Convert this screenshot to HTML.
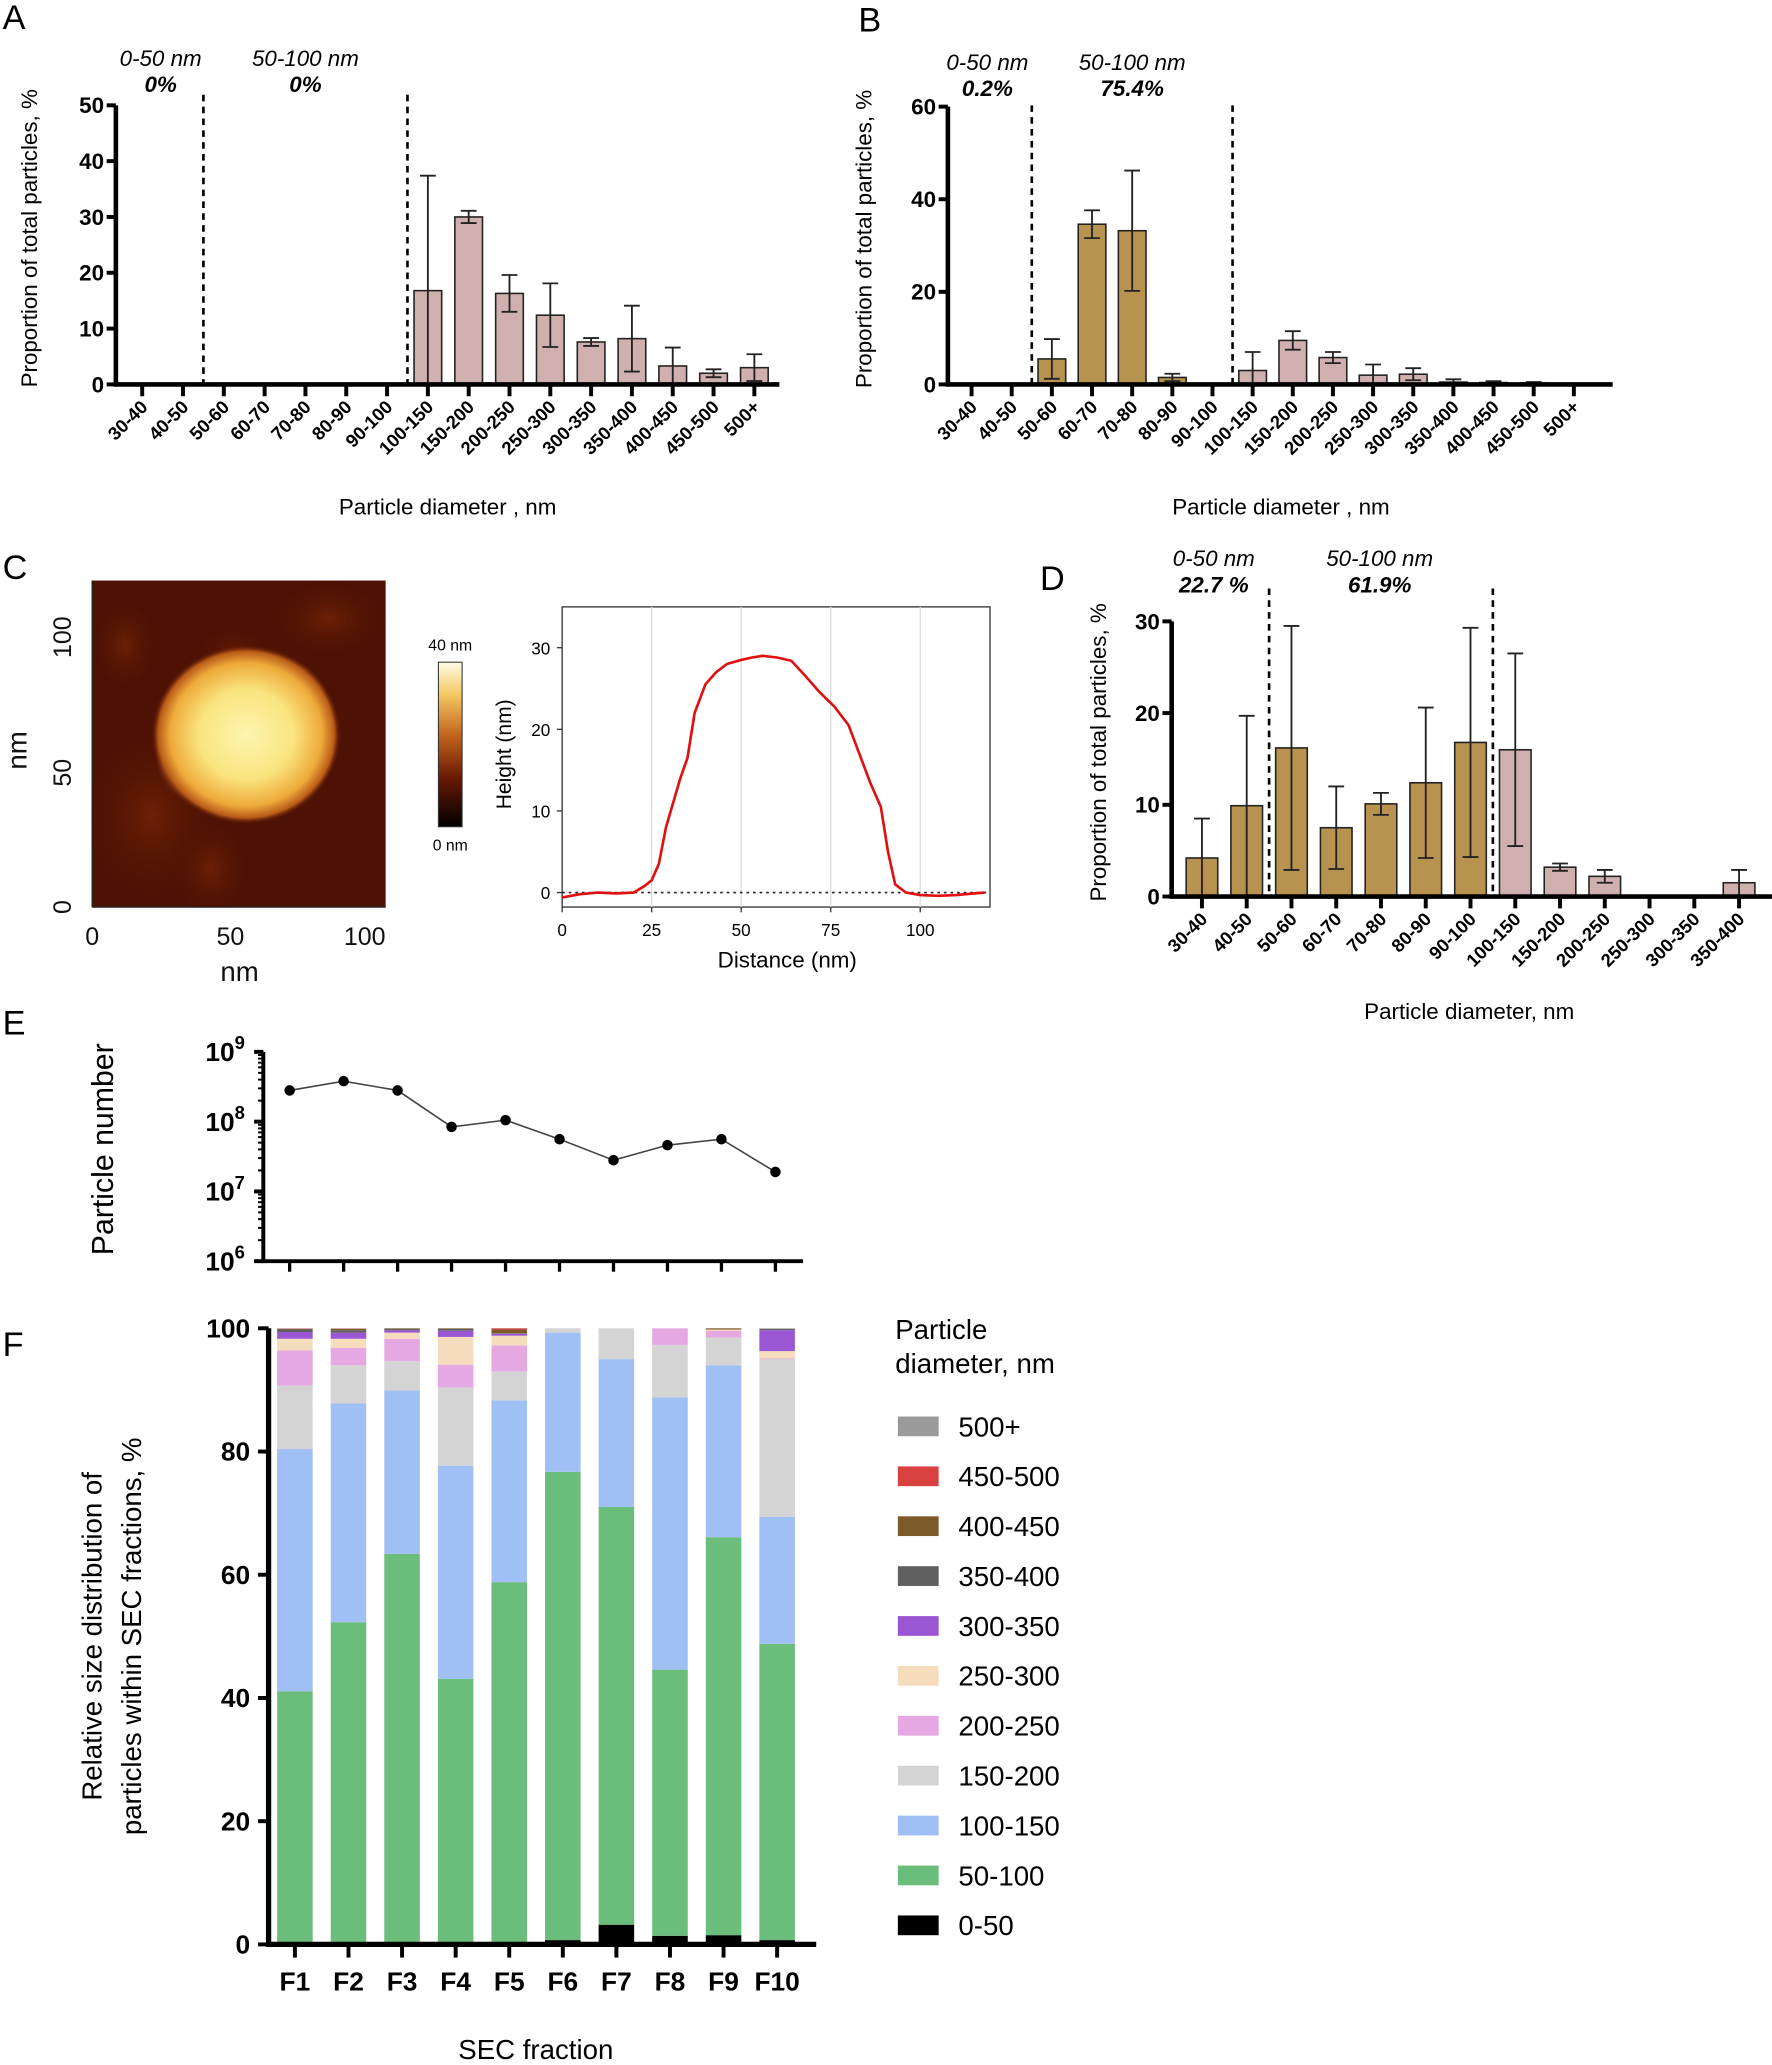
<!DOCTYPE html>
<html><head><meta charset="utf-8"><style>
html,body{margin:0;padding:0;background:#fff;}
svg{display:block;font-family:"Liberation Sans",Arial,sans-serif;}
</style></head><body>
<svg id="fig" width="1772" height="2065" viewBox="0 0 1346 1568.6" xmlns="http://www.w3.org/2000/svg">
<defs>
<clipPath id="afmclip"><rect x="70" y="441" width="223" height="248"/></clipPath>
<radialGradient id="blob" cx="50%" cy="50%" r="50%">
<stop offset="0" stop-color="#fdf5b0"/><stop offset="0.5" stop-color="#f9e47e"/><stop offset="0.8" stop-color="#eeaa3a"/><stop offset="0.93" stop-color="#b85a18"/><stop offset="1" stop-color="#5a1505" stop-opacity="0"/>
</radialGradient>
<radialGradient id="blob2" cx="50%" cy="50%" r="50%">
<stop offset="0" stop-color="#f7d060"/><stop offset="0.7" stop-color="#e49a38"/><stop offset="1" stop-color="#a04a10" stop-opacity="0"/>
</radialGradient>
<radialGradient id="spot" cx="50%" cy="50%" r="50%"><stop offset="0" stop-color="#6e2006"/><stop offset="1" stop-color="#4e1204" stop-opacity="0"/></radialGradient>
<linearGradient id="cbar" x1="0" y1="1" x2="0" y2="0">
<stop offset="0" stop-color="#000"/><stop offset="0.3" stop-color="#6a1a04"/><stop offset="0.55" stop-color="#c0621c"/><stop offset="0.8" stop-color="#f3c760"/><stop offset="1" stop-color="#fffbe8"/>
</linearGradient>
</defs>
<g font-size="26">
<text x="2" y="22">A</text><text x="652" y="24">B</text><text x="2" y="440">C</text><text x="790" y="448">D</text><text x="2" y="786">E</text><text x="2" y="1030">F</text>
</g>
<g clip-path="url(#afmclip)">
<rect x="70" y="441" width="223" height="248" fill="#4e1204"/>
<ellipse cx="115" cy="620" rx="55" ry="70" fill="url(#spot)"/>
<ellipse cx="160" cy="660" rx="30" ry="40" fill="url(#spot)"/>
<ellipse cx="250" cy="470" rx="45" ry="30" fill="url(#spot)"/>
<ellipse cx="178" cy="500" rx="30" ry="25" fill="url(#spot)"/>
<ellipse cx="95" cy="490" rx="25" ry="35" fill="url(#spot)"/>
<ellipse cx="215" cy="540" rx="35" ry="40" fill="url(#blob2)"/>
<ellipse cx="160" cy="575" rx="42" ry="38" fill="url(#blob2)"/>
<ellipse cx="187" cy="558" rx="72" ry="68" fill="url(#blob)"/>
</g>
<g font-size="19" fill="#111">
<line x1="70" y1="689" x2="293" y2="689" stroke="#222"/>
<line x1="70" y1="441" x2="70" y2="689" stroke="#222"/>
<text x="70" y="718" text-anchor="middle">0</text><text x="175" y="718" text-anchor="middle">50</text><text x="277" y="718" text-anchor="middle">100</text>
<text x="182" y="745" text-anchor="middle" font-size="21">nm</text>
<text transform="translate(54,689) rotate(-90)" text-anchor="middle">0</text>
<text transform="translate(54,587) rotate(-90)" text-anchor="middle">50</text>
<text transform="translate(54,484) rotate(-90)" text-anchor="middle">100</text>
<text transform="translate(20,570) rotate(-90)" text-anchor="middle" font-size="21">nm</text>
</g>
<g font-size="12">
<rect x="333" y="503" width="18" height="125" fill="url(#cbar)" stroke="#333" stroke-width="0.8"/>
<text x="342" y="494" text-anchor="middle">40 nm</text><text x="342" y="646" text-anchor="middle">0 nm</text>
</g>
<g id="pC"></g>
<g id="pA"></g>
<g id="pB"></g>
<g id="pD"></g>
<g id="pE"></g>
<g id="pF"></g>
</svg>
<script>
const catsAB = ["30-40","40-50","50-60","60-70","70-80","80-90","90-100","100-150","150-200","200-250","250-300","300-350","350-400","400-450","450-500","500+"];
const valsA = [0,0,0,0,0,0,0,16.8,30,16.3,12.4,7.6,8.2,3.3,2.0,3.0];
const errA  = [0,0,0,0,0,0,0,20.6,1.1,3.3,5.7,0.7,5.9,3.3,0.7,2.4];
const valsB = [0,0,5.5,34.6,33.2,1.5,0,3.0,9.5,5.8,2.0,2.2,0.5,0.4,0.3,0];
const errB  = [0,0,4.3,3.0,13.0,0.8,0,4.0,2.0,1.2,2.3,1.3,0.6,0.3,0.2,0];
const catsD = ["30-40","40-50","50-60","60-70","70-80","80-90","90-100","100-150","150-200","200-250","250-300","300-350","350-400"];
const valsD = [4.2,9.9,16.2,7.5,10.1,12.4,16.8,16.0,3.2,2.2,0,0,1.5];
const errD  = [4.3,9.8,13.3,4.5,1.2,8.2,12.5,10.5,0.4,0.7,0,0,1.4];
const ticksA = [0,10,20,30,40,50];
const ticksB = [0,20,40,60];
const ticksD = [0,10,20,30];
const profX = [0,5,10,15,20,23,25,27,29,31,33,35,37,40,43,46,50,53,56,60,64,68,72,76,80,83,86,89,91,92,93,96,100,105,110,115,118];
const profY = [-0.6,-0.2,0,-0.1,0,0.8,1.5,3.5,8,11,14,16.5,22,25.5,27,28,28.5,28.8,29,28.8,28.4,26.5,24.5,22.8,20.5,17,13.5,10.5,5,3,1,0,-0.3,-0.4,-0.3,-0.1,0];
const profXTicks = [0,25,50,75,100];
const profYTicks = [0,10,20,30];
const fractions = ["F1","F2","F3","F4","F5","F6","F7","F8","F9","F10"];
const particleNumbers = [2.8e8,3.8e8,2.8e8,8.4e7,1.05e8,5.6e7,2.8e7,4.6e7,5.6e7,1.9e7];
const sizeClasses = ["0-50","50-100","100-150","150-200","200-250","250-300","300-350","350-400","400-450","450-500","500+"];
const sizeColors = ["#000000","#6abd7a","#a0bff5","#d4d4d4","#e6a8e3","#f5dcbd","#9b57d3","#606060","#7d5a2a","#d94040","#9a9a9a"];
const s050   = [0.3,0.3,0.3,0.3,0.3,0.7,3.2,1.4,1.5,0.7];
const s50100 = [40.8,52,63.1,42.8,58.5,76,67.8,43.2,64.6,48.1];
const s100150= [39.3,35.5,26.5,34.6,29.5,22.6,24,44.2,27.9,20.6];
const s150200= [10.3,6.2,4.8,12.7,4.7,0.7,5,8.5,4.5,25.6];
const s200250= [5.7,2.8,3.6,3.7,4.2,0,0,2.7,1.1,0.1];
const s250300= [1.9,1.5,1,4.5,1.6,0,0,0,0.2,1.2];
const s300350= [1.1,1,0.4,1,0.3,0,0,0,0,3.4];
const s350400= [0.4,0.4,0.2,0.3,0.1,0,0,0,0,0.2];
const s400450= [0.1,0.2,0.1,0.1,0.6,0,0,0,0.2,0];
const s450500= [0.05,0.05,0,0,0.2,0,0,0,0,0];
const s500p  = [0.05,0.05,0,0,0,0,0,0,0,0.1];
const stackSeries = [s050,s50100,s100150,s150200,s200250,s250300,s300350,s350400,s400450,s450500,s500p];
const yTicksF = [0,20,40,60,80,100];
const logTicks = [6,7,8,9];

const NS="http://www.w3.org/2000/svg";
function mk(p,tag,a,txt){const e=document.createElementNS(NS,tag);for(const k in a)e.setAttribute(k,a[k]);if(txt!==undefined)e.textContent=txt;p.appendChild(e);return e;}

function barChart(g,cats,vals,errs,ticks,cfg){
  const y=v=>cfg.y0-(v/cfg.ymax)*(cfg.y0-cfg.ytop);
  const x=i=>cfg.x0+i*cfg.dx;
  ticks.forEach(t=>{
    let e=mk(g,'line',{x1:cfg.ax-7,x2:cfg.ax,y1:y(t),y2:y(t),stroke:'#000','stroke-width':3});
    
    
    e=mk(g,'text',{x:cfg.ax-9,y:y(t)+6,'text-anchor':'end','font-size':17,'font-weight':'bold'},String(t));
    
    
  });
  cats.forEach((c,i)=>{
    const col=i>=cfg.pinkFrom?'#cfb0ae':'#b8924f';
    if(vals[i]>0){
      let r=mk(g,'rect',{x:x(i)-cfg.bw/2,y:y(vals[i]),width:cfg.bw,height:cfg.y0-y(vals[i]),fill:col,stroke:'#222','stroke-width':1.2});
      
      
    }
    if(errs[i]>0){
      const lo=Math.max(0,vals[i]-errs[i]),hi=vals[i]+errs[i];
      let e=mk(g,'path',{d:`M${x(i)},${y(lo)}V${y(hi)}M${x(i)-6},${y(hi)}H${x(i)+6}M${x(i)-6},${y(lo)}H${x(i)+6}`,stroke:'#222','stroke-width':1.4,fill:'none'});
      
      
    }
    let t=mk(g,'line',{x1:x(i),x2:x(i),y1:cfg.y0,y2:cfg.y0+9,stroke:'#000','stroke-width':3});
    
    
    let l=mk(g,'text',{transform:`translate(${x(i)+5},${cfg.y0+18}) rotate(-45)`,'text-anchor':'end','font-size':14,'font-weight':'bold'},c);
    
    
  });
  cfg.dashes.forEach(d=>{
    let e=mk(g,'line',{x1:x(d),x2:x(d),y1:cfg.dashTop,y2:cfg.y0,stroke:'#000','stroke-width':2,'stroke-dasharray':'5,4'});
    
    
  });
  let ax=mk(g,'path',{d:`M${cfg.ax},${y(ticks[ticks.length-1])}V${cfg.y0}H${cfg.xend}`,stroke:'#000','stroke-width':3.5,fill:'none'});
  
  
  let yt=mk(g,'text',{transform:`translate(${cfg.ytx},${(cfg.y0+cfg.ytop)/2-5}) rotate(-90)`,'text-anchor':'middle','font-size':17},'Proportion of total particles, %');
  
  
  let xt=mk(g,'text',{x:cfg.xtx,y:cfg.xty,'text-anchor':'middle','font-size':17},cfg.xtitle);
  
  
  cfg.ann.forEach(a=>{
    let e=mk(g,'text',{x:a[0],y:a[1],'text-anchor':'middle','font-size':17,'font-style':'italic'},a[2]);
    
    
    e=mk(g,'text',{x:a[0],y:a[1]+20,'text-anchor':'middle','font-size':17,'font-style':'italic','font-weight':'bold'},a[3]);
    
    
  });
}
barChart(document.getElementById('pA'),catsAB,valsA,errA,ticksA,{ax:88,y0:292,ytop:80,ymax:50,x0:108,dx:31,bw:21,xend:592,pinkFrom:0,dashes:[1.5,6.5],dashTop:72,ytx:28,xtx:340,xty:391,xtitle:'Particle diameter , nm',ann:[[122,50,'0-50 nm','0%'],[232,50,'50-100 nm','0%']]});
barChart(document.getElementById('pB'),catsAB,valsB,errB,ticksB,{ax:720,y0:292,ytop:81,ymax:60,x0:738,dx:30.5,bw:21,xend:1225,pinkFrom:7,dashes:[1.5,6.5],dashTop:80,ytx:662,xtx:973,xty:391,xtitle:'Particle diameter , nm',ann:[[750,53,'0-50 nm','0.2%'],[860,53,'50-100 nm','75.4%']]});
barChart(document.getElementById('pD'),catsD,valsD,errD,ticksD,{ax:890,y0:681,ytop:472,ymax:30,x0:913,dx:34,bw:24,xend:1346,pinkFrom:7,dashes:[1.5,6.5],dashTop:447,ytx:840,xtx:1116,xty:774,xtitle:'Particle diameter, nm',ann:[[922,430,'0-50 nm','22.7 %'],[1048,430,'50-100 nm','61.9%']]});

(function(){
  const g=document.getElementById('pC');
  const X=v=>427+v*2.72, Y=v=>678-v*6.2;
  let fr=mk(g,'rect',{x:427,y:461,width:325,height:228,fill:'none',stroke:'#333','stroke-width':1});
  
  
  profXTicks.forEach(t=>{
    if(t>0){let gl=mk(g,'line',{x1:X(t),x2:X(t),y1:461,y2:689,stroke:'#ddd','stroke-width':1});
    
    }
    let e=mk(g,'line',{x1:X(t),x2:X(t),y1:689,y2:693,stroke:'#333'});
    
    
    e=mk(g,'text',{x:X(t),y:711,'text-anchor':'middle','font-size':13},String(t));
    
    
  });
  profYTicks.forEach(t=>{
    let e=mk(g,'line',{x1:423,x2:427,y1:Y(t),y2:Y(t),stroke:'#333'});
    
    
    e=mk(g,'text',{x:418,y:Y(t)+5,'text-anchor':'end','font-size':13},String(t));
    
    
  });
  let z=mk(g,'line',{x1:427,x2:752,y1:Y(0),y2:Y(0),stroke:'#222','stroke-width':1.3,'stroke-dasharray':'2,3'});
  
  
  let d=profX.map((v,i)=>(i?'L':'M')+X(v)+','+Y(profY[i])).join('');
  let p=mk(g,'path',{d:d,fill:'none',stroke:'#e01010','stroke-width':2});
  
  
  let t=mk(g,'text',{x:598,y:735,'text-anchor':'middle','font-size':17},'Distance (nm)');
  
  
  t=mk(g,'text',{transform:'translate(388,573) rotate(-90)','text-anchor':'middle','font-size':16},'Height (nm)');
  
  
})();

(function(){
  const g=document.getElementById('pE');
  const Y=v=>958-53*(Math.log10(v)-6), X=i=>220+i*41;
  logTicks.forEach(t=>{
    let e=mk(g,'line',{x1:193,x2:200,y1:Y(Math.pow(10,t)),y2:Y(Math.pow(10,t)),stroke:'#000','stroke-width':3});
    
    
    e=mk(g,'text',{x:186,y:Y(Math.pow(10,t))+7,'text-anchor':'end','font-size':20,'font-weight':'bold'});
    
    
    mk(e,'tspan',{},'10');
    mk(e,'tspan',{dy:-9,'font-size':14},String(t));
    if(t<9){for(let m=2;m<10;m++){let mm=mk(g,'line',{x1:196,x2:200,y1:Y(m*Math.pow(10,t)),y2:Y(m*Math.pow(10,t)),stroke:'#000','stroke-width':1.5});
      
      }}
  });
  fractions.forEach((f,i)=>{
    let e=mk(g,'line',{x1:X(i),x2:X(i),y1:958,y2:966,stroke:'#000','stroke-width':2.5});
    
    
  });
  let d=particleNumbers.map((v,i)=>(i?'L':'M')+X(i)+','+Y(v)).join('');
  let ln=mk(g,'path',{d:d,fill:'none',stroke:'#444','stroke-width':1.2});
  
  
  particleNumbers.forEach((v,i)=>{
    let c=mk(g,'circle',{cx:X(i),cy:Y(v),r:4,fill:'#000'});
    
    
  });
  let ax=mk(g,'path',{d:'M200,799V958H610',fill:'none',stroke:'#000','stroke-width':3});
  
  
  let t=mk(g,'text',{transform:'translate(86,873) rotate(-90)','text-anchor':'middle','font-size':23},'Particle number');
  
  
})();

(function(){
  const g=document.getElementById('pF');
  const Y=v=>1477-v*4.68, X=i=>224+i*40.7, bw=27;
  yTicksF.forEach(t=>{
    let e=mk(g,'line',{x1:196,x2:204,y1:Y(t),y2:Y(t),stroke:'#000','stroke-width':3});
    
    
    e=mk(g,'text',{x:190,y:Y(t)+7,'text-anchor':'end','font-size':20,'font-weight':'bold'},String(t));
    
    
  });
  fractions.forEach((f,i)=>{
    let acc=0;
    stackSeries.forEach((ser,k)=>{
      const v=ser[i]; if(v<=0)return;
      let r=mk(g,'rect',{x:X(i)-bw/2,y:Y(acc+v),width:bw,height:v*4.68,fill:sizeColors[k]});
      
      
      acc+=v;
    });
    let e=mk(g,'line',{x1:X(i),x2:X(i),y1:1477,y2:1487,stroke:'#000','stroke-width':3});
    
    
    e=mk(g,'text',{x:X(i),y:1512,'text-anchor':'middle','font-size':20,'font-weight':'bold'},f);
    
    
  });
  let ax=mk(g,'path',{d:'M204,1009V1477H620',fill:'none',stroke:'#000','stroke-width':4});
  
  
  let t=mk(g,'text',{x:407,y:1564,'text-anchor':'middle','font-size':21},'SEC fraction');
  
  
  t=mk(g,'text',{transform:'translate(77,1243) rotate(-90)','text-anchor':'middle','font-size':21},'Relative size distribution of');
  
  
  t=mk(g,'text',{transform:'translate(107,1243) rotate(-90)','text-anchor':'middle','font-size':21},'particles within SEC fractions, %');
  
  
  t=mk(g,'text',{x:680,y:1017,'font-size':21},'Particle');
  
  
  t=mk(g,'text',{x:680,y:1043,'font-size':21},'diameter, nm');
  
  
  for(let k=sizeClasses.length-1,j=0;k>=0;k--,j++){
    const yy=1083+j*37.9;
    let r=mk(g,'rect',{x:682,y:yy-7,width:31,height:15,fill:sizeColors[k]});
    
    
    let l=mk(g,'text',{x:728,y:yy+8,'font-size':21},sizeClasses[k]);
    
    
  }
})();
</script>
</body></html>
